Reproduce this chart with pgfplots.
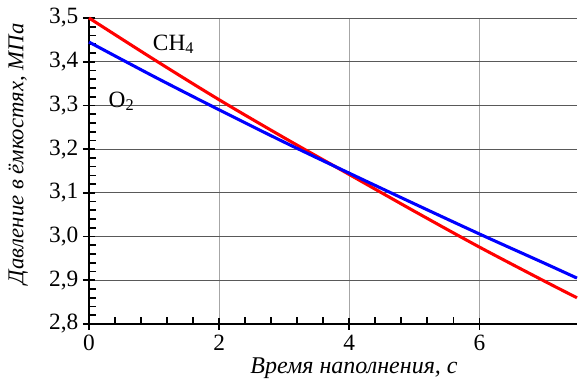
\documentclass[border=0pt]{standalone}
\usepackage{fontspec}
\setmainfont{Liberation Serif}
\usepackage{pgfplots}
\pgfplotsset{compat=1.18}
\begin{document}
\begin{tikzpicture}
\begin{axis}[
  scale only axis,
  width=366pt, height=229.5pt,
  xmin=0, xmax=7.5, ymin=2.8, ymax=3.5,
  axis x line=bottom, axis y line=left,
  axis line style={line width=1.6pt, -},
  xtick={0,2,4,6}, ytick={2.8,2.9,...,3.51},
  minor x tick num=4, minor y tick num=4,
  tick align=center,
  major tick length=9pt, minor tick length=5pt,
  every tick/.style={black, line width=1.3pt},
  minor x tick style={yshift=2.5pt},
  minor y tick style={xshift=2.5pt},
  grid=major,
  x grid style={gray!70, line width=0.8pt},
  y grid style={black!65, line width=0.6pt},
  /pgf/number format/assume math mode=true,
  yticklabel style={/pgf/number format/.cd, fixed, fixed zerofill, precision=1, use comma},
  ticklabel style={font=\fontsize{17.5}{20}\selectfont},
  xlabel={Время наполнения, с},
  ylabel={Давление в ёмкостях, МПа},
  xlabel style={font=\fontsize{18}{20}\selectfont\itshape, at={(axis description cs:0.543,0)}, anchor=north, yshift=-22pt},
  ylabel style={font=\fontsize{17}{20}\selectfont\itshape, at={(axis description cs:-0.145,0.556)}, anchor=center},
  clip=false,
]
\addplot[red, line width=2.3pt, smooth] coordinates {
  (0,3.500) (1,3.405) (2,3.313) (3,3.226) (4,3.142) (5,3.058) (6,2.976) (7,2.898) (7.5,2.860)};
\addplot[blue, line width=2.3pt, smooth] coordinates {
  (0,3.445) (1,3.366) (2,3.290) (3,3.216) (4,3.145) (5,3.075) (6,3.006) (7,2.939) (7.5,2.905)};
\node[font=\fontsize{17.5}{20}\selectfont] at (axis cs:1.3,3.44) {CH\textsubscript{4}};
\node[font=\fontsize{17.5}{20}\selectfont] at (axis cs:0.5,3.31) {O\textsubscript{2}};
\end{axis}
\pgfresetboundingbox
\useasboundingbox (-66.75pt,-45.75pt) rectangle (367.5pt,243pt);
\end{tikzpicture}
\end{document}
